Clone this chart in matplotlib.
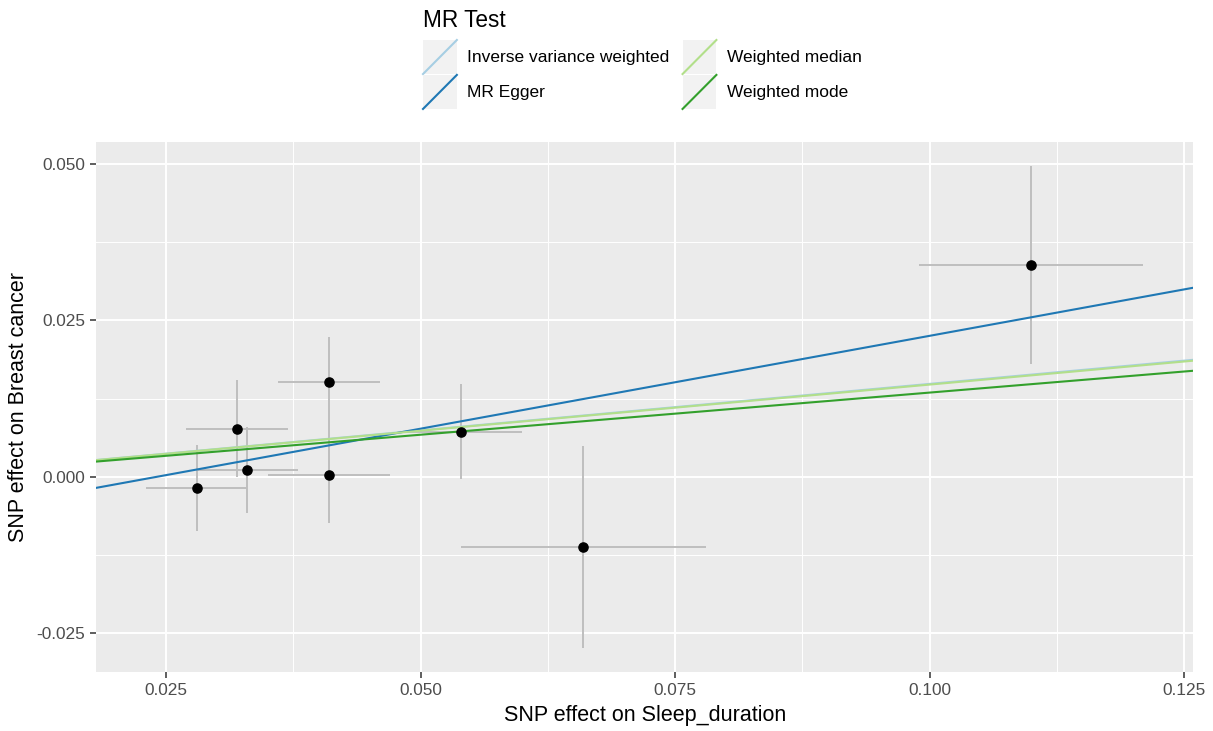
import matplotlib
matplotlib.use('Agg')
import matplotlib.pyplot as plt
from matplotlib.legend_handler import HandlerBase
from matplotlib.patches import Rectangle
from matplotlib.lines import Line2D
import numpy as np

plt.rcParams['font.family'] = ['Liberation Sans', 'DejaVu Sans']

# SNP effects (exposure = sleep duration, outcome = breast cancer)
beta_exp = [0.028, 0.032, 0.033, 0.041, 0.041, 0.054, 0.066, 0.110]
se_exp = [0.005, 0.005, 0.005, 0.005, 0.006, 0.006, 0.012, 0.011]
beta_out = [-0.0018, 0.0077, 0.0011, 0.0152, 0.0003, 0.0072, -0.0112, 0.0339]
se_out = [0.0069, 0.0078, 0.0068, 0.0072, 0.0077, 0.0076, 0.0162, 0.0158]

# MR estimates: (label, intercept, slope)
methods = ['Inverse variance weighted', 'MR Egger', 'Weighted median', 'Weighted mode']
intercepts = [0.0, -0.00714, 0.0, 0.0]
slopes = [0.1486, 0.2968, 0.1475, 0.1347]
colors = ['#a6cee3', '#1f78b4', '#b2df8a', '#33a02c']

xticks = [0.025, 0.050, 0.075, 0.100, 0.125]
yticks = [-0.025, 0.000, 0.025, 0.050]


class KeyHandler(HandlerBase):
    # ggplot style abline key: grey box with a diagonal line
    def create_artists(self, legend, orig_handle, xdescent, ydescent,
                       width, height, fontsize, trans):
        x0, y0 = -xdescent, -ydescent
        bg = Rectangle((x0, y0), width, height, facecolor='#F2F2F2',
                       edgecolor='none', transform=trans)
        ln = Line2D([x0, x0 + width], [y0, y0 + height],
                    color=orig_handle.get_color(), lw=1.5, transform=trans)
        return [bg, ln]


fig = plt.figure(figsize=(12.13, 7.31), dpi=100)
ax = fig.add_axes([96 / 1213, 59.3 / 731, 1097.3 / 1213, 530 / 731])
ax.set_facecolor('#EBEBEB')
for s in ax.spines.values():
    s.set_visible(False)

ax.set_xlim(0.01812, 0.12591)
ax.set_ylim(-0.03114, 0.05357)
ax.set_xticks(xticks)
ax.set_yticks(yticks)
ax.set_xticklabels(['%.3f' % v for v in xticks])
ax.set_yticklabels(['%.3f' % v for v in yticks])
ax.set_xticks([0.0375, 0.0625, 0.0875, 0.1125], minor=True)
ax.set_yticks([-0.0125, 0.0125, 0.0375], minor=True)
ax.grid(which='major', color='white', lw=1.4)
ax.grid(which='minor', color='white', lw=0.7)
ax.set_axisbelow(True)
ax.tick_params(which='major', length=4, width=1.1, color='#333333',
               labelcolor='#4D4D4D', labelsize=12.4, pad=4)
ax.tick_params(which='minor', length=0)

ax.errorbar(beta_exp, beta_out, yerr=se_out, fmt='none', ecolor='#BEBEBE',
            elinewidth=1.4, capsize=0, zorder=2)
ax.errorbar(beta_exp, beta_out, xerr=se_exp, fmt='none', ecolor='#BEBEBE',
            elinewidth=1.4, capsize=0, zorder=2)
ax.plot(beta_exp, beta_out, 'o', color='black', markersize=6.6, zorder=5)

handles = []
for m, b, k, c in zip(methods, intercepts, slopes, colors):
    ax.axline((0, b), slope=k, color=c, lw=1.5, zorder=3)
    handles.append(Line2D([], [], color=c, label=m))

ax.set_xlabel('SNP effect on Sleep_duration', fontsize=15.5, labelpad=5.5)
ax.set_ylabel('SNP effect on Breast cancer', fontsize=15.5, labelpad=5)

# legend title drawn separately for the ggplot-like gap above the keys
fig.text(423 / 1213, 1 - 27 / 731, 'MR Test', fontsize=16.3,
         ha='left', va='baseline')
leg = fig.legend(handles=handles, labels=methods, ncol=2, loc='upper left',
                 bbox_to_anchor=(423 / 1213, 1 - 40 / 731), frameon=False,
                 fontsize=12.5, handler_map={Line2D: KeyHandler()},
                 handlelength=1.95, handleheight=2.64, handletextpad=0.6,
                 labelspacing=0.05, columnspacing=0.75, borderpad=0,
                 borderaxespad=0)

fig.savefig('out.png', dpi=100)
